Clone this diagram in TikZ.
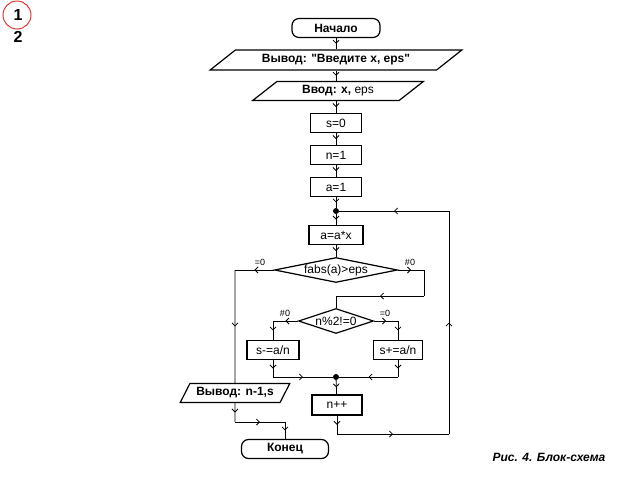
\documentclass[tikz,border=0pt]{standalone}
\usepackage{fontspec}
\setmainfont{Liberation Sans}[Ligatures=TeXOff]
\usetikzlibrary{arrows.meta,shapes.geometric,decorations.markings}
\definecolor{red1}{HTML}{E53935}

\begin{document}
\begin{tikzpicture}[
    x=1pt, y=-1pt,
    >={Straight Barb[length=3pt,width=6pt]},
    box/.style={draw, line width=1.2pt, minimum width=51pt, minimum height=19pt,
                inner sep=0pt, font=\fontsize{12}{14}\selectfont},
    term/.style={box, rounded corners=7pt, minimum width=88pt,
                 font=\bfseries\fontsize{12}{14}\selectfont},
    io/.style={box, trapezium, trapezium stretches=true,
               font=\bfseries\fontsize{12}{14}\selectfont},
    cond/.style={draw, diamond, line width=1.2pt, inner sep=0pt,
                 minimum height=25pt, font=\fontsize{12}{14}\selectfont},
    dot/.style={circle, fill, inner sep=0pt, minimum size=6pt},
    flow/.style={line width=0.8pt, postaction={decorate},
                 decoration={markings, mark=at position 0.5 with {\arrow{>}}}},
    line/.style={line width=0.8pt},
    lbl/.style={font=\fontsize{9}{10}\selectfont},
]
\useasboundingbox (0,0) rectangle (640,480);

% slide number
\node[draw=red1, line width=1pt, circle, minimum size=28pt] (mark) at (17,15) {};
\node[font=\bfseries\fontsize{16}{22}\selectfont, align=center] (num) at (18,26) {1\\2};

% main column
\node[term] (start) at (336,28) {Начало};
\node[io, minimum width=252pt, minimum height=20pt,
      trapezium left angle=30, trapezium right angle=150]
    (out1) at (336,60) {Вывод: "Введите x, eps"};
\node[io, minimum width=172pt,
      trapezium left angle=37, trapezium right angle=143]
    (in1) at (338,91) {Ввод: x, \textmd{eps}};
\node[box] (s0) at (336,123) {s=0};
\node[box] (n1) at (336,155) {n=1};
\node[box] (a1) at (336,187) {a=1};
\node[dot] (j1) at (336,211) {};
\node[box, minimum width=54pt] (ax) at (336,235) {a=a*x};
\node[cond, minimum width=123pt, aspect=4.9] (d1) at (336,270) {fabs(a)>eps};
\node[cond, minimum width=75pt, aspect=3] (d2) at (336,321) {n\%2!=0};
\node[box, minimum width=52pt] (sm) at (273,350) {s-=a/n};
\node[box, minimum width=49pt] (sp) at (398,350) {s+=a/n};
\node[dot] (j2) at (336,377) {};
\node[box, minimum width=50pt, minimum height=20pt] (ni) at (337,405) {n++};
\node[io, minimum width=110pt,
      trapezium left angle=52, trapezium right angle=128]
    (out2) at (235,393) {Вывод: n-1,s};
\node[term, minimum width=87pt] (fin) at (285,449) {Конец};

% branch labels
\node[lbl] (eq1) at (260,262) {=0};
\node[lbl] (ne1) at (410,262) {\#0};
\node[lbl] (ne2) at (285,313) {\#0};
\node[lbl] (eq2) at (385,313) {=0};

% corners
\coordinate (l1) at (235,270);
\coordinate (r1) at (424,270);
\coordinate (r2) at (424,296);
\coordinate (r3) at (336,296);
\coordinate (l2) at (273,321);
\coordinate (r4) at (398,321);
\coordinate (l3) at (273,377);
\coordinate (r5) at (398,377);
\coordinate (lb) at (337,434);
\coordinate (rb) at (449,434);
\coordinate (rt) at (449,211);
\coordinate (l4) at (235,422);
\coordinate (l5) at (285,422);

\draw[flow] (start.south) -- (start.south |- out1.north);
\draw[flow] (out1.south -| start.south) -- (start.south |- in1.north);
\draw[flow] (start.south |- in1.south) -- (s0.north);
\draw[flow] (s0) -- (n1);
\draw[flow] (n1) -- (a1);
\draw[flow] (a1) -- (j1);
\draw[flow] (j1) -- (ax);
\draw[flow] (ax) -- (d1);

% fabs(a)>eps
\draw[flow] (d1.west) -- (l1);
\draw[flow] (l1) -- (out2.north);
\draw[flow] (d1.east) -- (r1);
\draw[line] (r1) -- (r2);
\draw[flow] (r2) -- (r3);
\draw[line] (r3) -- (d2.north);

% n%2!=0
\draw[flow] (d2.west) -- (l2);
\draw[flow] (l2) -- (sm.north);
\draw[flow] (d2.east) -- (r4);
\draw[flow] (r4) -- (sp.north);
\draw[flow] (sm.south) -- (l3);
\draw[flow] (l3) -- (j2);
\draw[flow] (sp.south) -- (r5);
\draw[flow] (r5) -- (j2);
\draw[flow] (j2) -- (ni);

% loop back
\draw[flow] (ni.south) -- (lb);
\draw[flow] (lb) -- (rb);
\draw[flow] (rb) -- (rt);
\draw[flow] (rt) -- (j1);

% exit
\draw[flow] (out2.south) -- (l4);
\draw[flow] (l4) -- (l5);
\draw[flow] (l5) -- (fin.north);

\node[font=\bfseries\itshape\fontsize{12}{14}\selectfont] (cap) at (549,457) {Рис. 4. Блок-схема};
\end{tikzpicture}
\end{document}
